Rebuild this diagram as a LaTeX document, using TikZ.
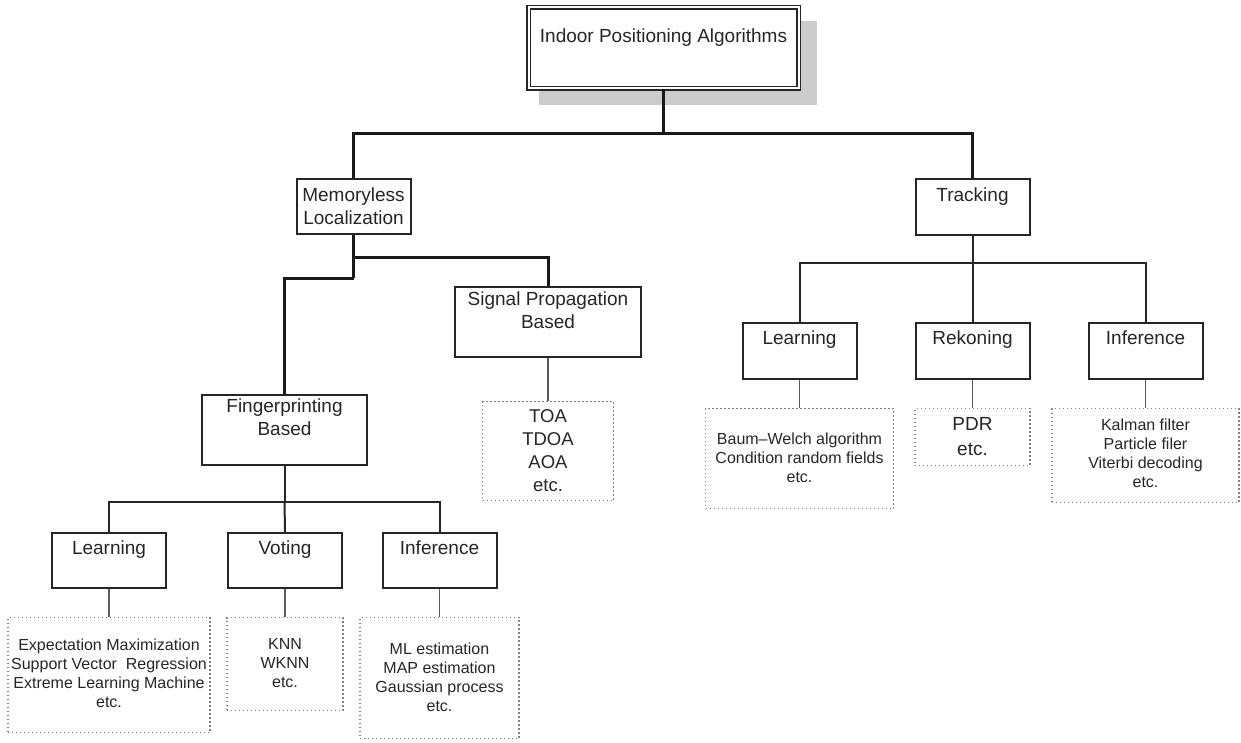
\documentclass[tikz,border=0pt]{standalone}
\usepackage{fontspec}
\setmainfont{Liberation Sans}
\usetikzlibrary{shadows}
\newcommand{\etiq}{\fontsize{19}{23}\selectfont}
\newcommand{\petit}{\fontsize{16}{19}\selectfont}
\newcommand{\moyenne}{\fontsize{18.5}{23}\selectfont}
\begin{document}
\begin{tikzpicture}[x=1pt, y=-1pt]
	\tikzset{boite/.style={draw=black!85, line width=2pt, fill=white, anchor=north, inner sep=0pt, align=center, font=\etiq, text=black!85, minimum width=114pt},
		liste/.style={draw=black!50, line width=1.3pt, dash pattern=on 1.3pt off 2.7pt, anchor=north, inner sep=0pt, align=center, font=\petit, text=black!85},
		gros/.style={line width=3pt, black!90}, moyen/.style={line width=2pt, black!85}, fin/.style={line width=1.3pt, black!65}};

	\useasboundingbox (0,0) rectangle (1241,742);

	\node[boite, line width=1.5pt, double=white, double distance=2pt, minimum width=270pt, text height=35pt, text depth=46pt,
		drop shadow={shadow xshift=14pt, shadow yshift=-15pt, shadow scale=1.03, fill=black!20, opacity=1}] (racine) at (663.5, 6.5) {Indoor Positioning Algorithms};

	\node[boite, text height=45.5pt, text depth=9.5pt] (mem) at (353.5, 178) {Memoryless\\Localization};
	\node[boite, text height=22pt, text depth=34pt] (trk) at (972.5, 178) {Tracking};
	\node[boite, minimum width=186pt, text height=41pt, text depth=29pt] (sig) at (548, 286) {Signal Propagation\\Based};
	\node[boite, minimum width=165pt, text height=40pt, text depth=30pt] (fp) at (284.5, 394) {Fingerprinting\\Based};

	\node[boite, text height=21pt, text depth=34pt] (l1) at (  109, 532) {Learning};
	\node[boite, text height=21pt, text depth=34pt] (v1) at (  285, 532) {Voting};
	\node[boite, text height=21pt, text depth=34pt] (i1) at (439.5, 532) {Inference};

	\node[boite, text height=21pt, text depth=35pt] (l2) at ( 799.5, 322) {Learning};
	\node[boite, text height=21pt, text depth=35pt] (r2) at ( 972.5, 322) {Rekoning};
	\node[boite, text height=21pt, text depth=35pt] (i2) at (1145.5, 322) {Inference};

	% exemples
	\node[liste, font=\moyenne, minimum width=131pt, text height=90pt, text depth=9pt] (esig) at (548, 401) {TOA\\TDOA\\AOA\\etc.};
	\node[liste, minimum width=202pt, text height=90pt, text depth=25pt] (el1) at (  109, 617) {Expectation Maximization\\Support Vector~ Regression\\Extreme Learning Machine\\etc.};
	\node[liste, minimum width=116pt, text height=70pt, text depth=23pt] (ev1) at (  285, 617) {KNN\\WKNN\\etc.};
	\node[liste, minimum width=159pt, text height=94pt, text depth=27pt] (ei1) at (439.5, 617) {ML estimation\\MAP estimation\\Gaussian process\\etc.};
	\node[liste, minimum width=188pt, text height=74pt, text depth=26pt] (el2) at ( 799.5, 408) {Baum--Welch algorithm\\Condition random fields\\etc.};
	\node[liste, font={\fontsize{19}{25}\selectfont}, minimum width=115pt, text height=47pt, text depth=10pt] (er2) at ( 972.5, 408) {PDR\\etc.};
	\node[liste, minimum width=187pt, text height=79pt, text depth=15pt] (ei2) at (1145.5, 408) {Kalman filter\\Particle filer\\Viterbi decoding\\etc.};

	\coordinate (b0) at (663.5, 133);
	\coordinate (b1) at (353.5, 257);
	\coordinate (b2) at (353.5, 278);
	\coordinate (b3) at (284.5, 502);
	\coordinate (b4) at (972.5, 263);

	\draw[gros] (racine.south) -- (b0);
	\draw[gros] (mem.north) |- (b0) -| (trk.north);
	\draw[gros] (mem.south) -- (b2);
	\draw[gros] (b1) -| (sig.north);
	\draw[gros] (b2) -| (fp.north);

	\draw[moyen] (fp.south) -- (b3);
	\draw[moyen] (l1.north) |- (b3) -| (i1.north);
	\draw[moyen] (b3) -- (v1.north);
	\draw[moyen] (trk.south) -- (b4);
	\draw[moyen] (l2.north) |- (b4) -| (i2.north);
	\draw[moyen] (b4) -- (r2.north);

	\draw[fin] (sig.south) -- (esig.north);
	\draw[fin] (l1.south) -- (el1.north);
	\draw[fin] (v1.south) -- (ev1.north);
	\draw[fin] (i1.south) -- (ei1.north);
	\draw[fin] (l2.south) -- (el2.north);
	\draw[fin] (r2.south) -- (er2.north);
	\draw[fin] (i2.south) -- (ei2.north);
\end{tikzpicture}
\end{document}
